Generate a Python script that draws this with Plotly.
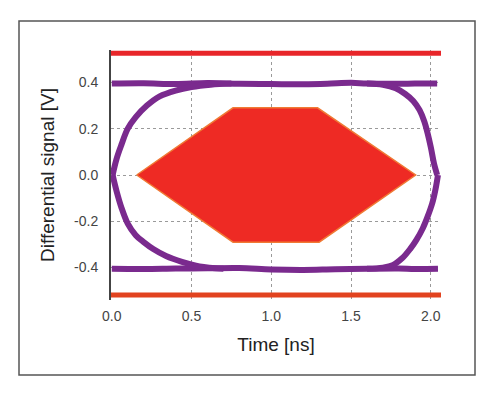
import plotly.graph_objects as go

# ---- data ----
x_ticks = [0.0, 0.5, 1.0, 1.5, 2.0]
x_tick_labels = ["0.0", "0.5", "1.0", "1.5", "2.0"]
y_ticks = [-0.4, -0.2, 0.0, 0.2, 0.4]
y_tick_labels = ["-0.4", "-0.2", "0.0", "0.2", "0.4"]

# eye diagram: high / low levels
high_x = [0.0, 0.2, 0.4, 0.6, 0.8, 1.0, 1.2, 1.35, 1.5, 1.6, 1.8, 1.9, 2.04]
high_y = [0.395, 0.396, 0.393, 0.397, 0.394, 0.393, 0.392, 0.394, 0.398, 0.395, 0.394, 0.395, 0.395]
low_x = [0.0, 0.2, 0.4, 0.6, 0.8, 1.0, 1.2, 1.4, 1.6, 1.8, 1.9, 2.045]
low_y = [-0.405, -0.406, -0.404, -0.403, -0.402, -0.408, -0.41, -0.407, -0.405, -0.404, -0.406, -0.405]

# transitions
rise_left_x = [0.005, 0.03, 0.06, 0.10, 0.15, 0.22, 0.30, 0.40, 0.50, 0.62, 0.75]
rise_left_y = [0.0, 0.07, 0.13, 0.20, 0.25, 0.30, 0.34, 0.365, 0.38, 0.39, 0.395]
fall_left_x = [0.005, 0.03, 0.06, 0.10, 0.15, 0.20, 0.26, 0.34, 0.44, 0.55, 0.70]
fall_left_y = [0.0, -0.07, -0.14, -0.21, -0.26, -0.29, -0.32, -0.35, -0.375, -0.395, -0.405]
fall_right_x = [1.60, 1.70, 1.78, 1.84, 1.89, 1.93, 1.96, 1.98, 2.00, 2.02, 2.04]
fall_right_y = [0.395, 0.39, 0.375, 0.35, 0.32, 0.28, 0.23, 0.18, 0.12, 0.05, 0.0]
rise_right_x = [1.60, 1.70, 1.76, 1.82, 1.87, 1.91, 1.95, 1.98, 2.01, 2.03, 2.045]
rise_right_y = [-0.405, -0.40, -0.39, -0.36, -0.32, -0.28, -0.23, -0.18, -0.12, -0.06, 0.0]

# mask
mask_x = [0.156, 0.76, 1.29, 1.905, 1.30, 0.76, 0.156]
mask_y = [0.0, 0.29, 0.29, 0.0, -0.29, -0.29, 0.0]
mask_span_x = [-0.005, 2.064]
mask_top_level = [0.526, 0.526]
mask_bottom_level = [-0.518, -0.518]

PURPLE = "#7a2a8e"
FONT = "Arial, Liberation Sans, sans-serif"

fig = go.Figure()

eye = [(high_x, high_y), (low_x, low_y), (rise_left_x, rise_left_y), (fall_left_x, fall_left_y),
       (fall_right_x, fall_right_y), (rise_right_x, rise_right_y)]
for ex, ey in eye:
    fig.add_trace(go.Scatter(x=ex, y=ey, mode="lines", line=dict(color=PURPLE, width=6, shape="spline"),
                             hoverinfo="skip", showlegend=False))

fig.add_trace(go.Scatter(x=mask_x, y=mask_y, mode="lines", fill="toself", fillcolor="#ee2a24",
                         line=dict(color="#f07a35", width=1.5), showlegend=False))
fig.add_trace(go.Scatter(x=mask_span_x, y=mask_top_level, mode="lines",
                         line=dict(color="#e8262a", width=5), showlegend=False))
fig.add_trace(go.Scatter(x=mask_span_x, y=mask_bottom_level, mode="lines",
                         line=dict(color="#e2431f", width=5), showlegend=False))

# outer frame (pixels -> paper coords: plot x 111..441, y 50..300)
fig.add_shape(type="rect", xref="paper", yref="paper",
              x0=(19 - 111) / 330, x1=(475 - 111) / 330,
              y0=-(375 - 300) / 250, y1=1 + (50 - 21) / 250,
              line=dict(color="#555555", width=1.5), fillcolor="rgba(0,0,0,0)", layer="below")

# page body adds an 8px offset, so the figure is 8px smaller and margins are reduced by 8
fig.update_layout(
    width=490, height=386,
    margin=dict(l=103, r=57, t=42, b=94),
    paper_bgcolor="white", plot_bgcolor="white",
    font=dict(family=FONT, color="#333333"),
    showlegend=False,
    xaxis=dict(range=[-0.005, 2.064], tickvals=x_ticks, ticktext=x_tick_labels,
               showgrid=True, gridcolor="#9a9a9a", griddash="dot", gridwidth=1,
               zeroline=False, showline=False, ticks="", ticklabelstandoff=6,
               tickfont=dict(size=14, color="#444444"),
               title=dict(text="Time [ns]", font=dict(size=19, color="#222222"), standoff=14)),
    yaxis=dict(range=[-0.54, 0.54], tickvals=y_ticks, ticktext=y_tick_labels,
               showgrid=True, gridcolor="#9a9a9a", griddash="dot", gridwidth=1,
               zeroline=False, showline=True, linecolor="#444444", linewidth=2,
               ticks="", ticklabelstandoff=8,
               tickfont=dict(size=14, color="#444444"),
               title=dict(text="Differential signal [V]", font=dict(size=19, color="#222222"), standoff=14)),
)

fig.write_html("out.html")
